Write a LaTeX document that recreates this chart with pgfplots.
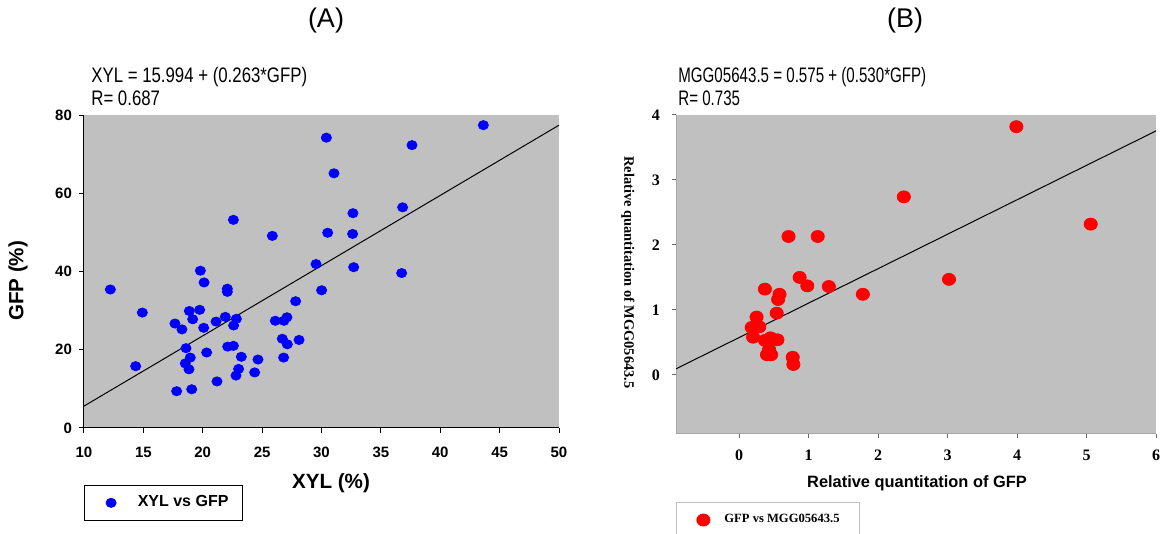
\documentclass[border=0pt]{standalone}
\usepackage{fontspec}
\setmainfont{Liberation Sans}
\newfontfamily\timesf{Liberation Serif}
\newfontfamily\narrowf[FakeStretch=0.8]{Liberation Sans}
\usepackage{pgfplots}
\pgfplotsset{compat=1.18}
\definecolor{plotbg}{RGB}{192,192,192}

\begin{document}
\begin{tikzpicture}[x=1pt,y=1pt]
\useasboundingbox (0,0) rectangle (582,267);

% ---------- panel A ----------
\begin{axis}[
  at={(42pt,53pt)}, anchor=south west,
  scale only axis, width=237.5pt, height=156.5pt,
  xmin=10, xmax=50, ymin=0, ymax=80,
  xtick={10,15,...,50}, ytick={0,20,...,80},
  axis x line*=bottom, axis y line*=left,
  axis line style={black, line width=0.5pt},
  axis background/.style={fill=plotbg},
  tick align=outside, major tick length=2.5pt,
  tick style={black, line width=0.5pt},
  ticklabel style={font=\fontsize{7.5}{9}\selectfont\bfseries},
  xticklabel style={yshift=-3.5pt},
  /pgf/number format/assume math mode=true,
  xlabel={XYL (\%)}, ylabel={GFP (\%)},
  label style={font=\fontsize{10.3}{12}\selectfont\bfseries},
  xlabel style={at={(axis description cs:0.52,-0.176)}, anchor=center},
  ylabel style={at={(axis description cs:-0.139,0.47)}, anchor=center},
  legend style={at={(axis description cs:0,-0.182)}, anchor=north west,
    draw=black, fill=white, font=\fontsize{8}{9.6}\selectfont\bfseries,
    inner xsep=5pt, inner ysep=3.2pt},
  legend image code/.code={\path[draw=none, fill=none] (0pt,0pt) -- (19.7pt,0pt);
    \draw[#1] plot coordinates {(8.35pt,0pt)};},
  legend cell align=left,
]
\addplot[only marks, mark=*, mark size=2.3pt, color=blue, mark options={xscale=1.1}] coordinates {
  (43.63,77.4) (30.41,74.2) (37.62,72.3) (31.05,65.1) (36.83,56.4)
  (32.65,54.9) (22.58,53.2) (30.52,49.9) (32.62,49.6) (25.86,49.1)
  (29.54,41.9) (32.71,41.1) (36.75,39.6) (19.80,40.2) (20.11,37.2)
  (12.22,35.4) (22.07,35.6) (22.07,34.8) (30.01,35.2) (27.82,32.4)
  (14.91,29.5) (18.87,29.9) (19.74,30.2) (19.15,27.8) (17.66,26.7)
  (18.25,25.2) (20.08,25.6) (21.12,27.2) (21.90,28.4) (22.83,27.9)
  (22.60,26.2) (26.11,27.4) (26.84,27.4) (27.09,28.3) (26.70,22.8)
  (27.12,21.4) (28.11,22.5) (18.59,20.4) (22.10,20.8) (22.58,21.0)
  (20.33,19.3) (18.95,18.0) (23.25,18.2) (24.65,17.5) (26.81,18.0)
  (14.35,15.8) (18.53,16.5) (18.84,15.0) (23.02,15.1) (22.80,13.4)
  (24.37,14.2) (21.20,11.9) (17.80,9.4) (19.07,9.9)
};
\addlegendentry{XYL vs GFP}
\addplot[black, line width=0.5pt, forget plot] coordinates {(10,5.6) (50,77.4)};
\end{axis}

% ---------- panel B ----------
\begin{axis}[
  at={(338pt,50pt)}, anchor=south west,
  scale only axis, width=240pt, height=159.5pt,
  xmin=-0.91, xmax=6, ymin=-0.91, ymax=4,
  xtick={0,1,...,6}, ytick={0,1,...,4},
  axis x line*=bottom, axis y line*=left,
  axis line style={black!35, line width=0.5pt},
  axis background/.style={fill=plotbg},
  tick align=outside, major tick length=2pt,
  tick style={black!60, line width=0.5pt},
  ticklabel style={font=\fontsize{8}{9.6}\selectfont\timesf\bfseries},
  xticklabel style={yshift=-2.5pt},
  yticklabel style={xshift=-2.5pt},
  /pgf/number format/assume math mode=true,
  xlabel={Relative quantitation of GFP},
  ylabel={Relative quantitation of MGG05643.5},
  xlabel style={font=\fontsize{8.2}{10}\selectfont\bfseries,
    at={(axis description cs:0.502,-0.156)}, anchor=center},
  ylabel style={font=\fontsize{7.2}{9}\selectfont\timesf\bfseries,
    at={(axis description cs:-0.1,0.506)}, anchor=center, rotate=180},
  legend style={at={(axis description cs:0,-0.213)}, anchor=north west,
    draw=black!25, fill=white, font=\fontsize{6.3}{7.5}\selectfont\timesf\bfseries,
    inner xsep=5pt, inner ysep=4pt},
  legend image code/.code={\path[draw=none, fill=none] (0pt,0pt) -- (17pt,0pt);
    \draw[#1] plot coordinates {(8.5pt,0pt)};},
  legend cell align=left,
]
\addplot[only marks, mark=*, mark size=3pt, color=red, mark options={xscale=1.1}] coordinates {
  (3.99,3.82) (2.37,2.74) (5.06,2.32) (0.71,2.13) (1.13,2.13)
  (0.87,1.50) (0.98,1.37) (1.29,1.36) (3.02,1.47) (1.78,1.24)
  (0.37,1.32) (0.58,1.24) (0.56,1.16) (0.54,0.95) (0.25,0.89)
  (0.18,0.73) (0.29,0.74) (0.20,0.58) (0.37,0.53) (0.45,0.57)
  (0.55,0.54) (0.43,0.39) (0.40,0.31) (0.46,0.31) (0.77,0.27)
  (0.78,0.16)
};
\addlegendentry{GFP vs MGG05643.5\hspace*{3pt}}
\addplot[black, line width=0.5pt, forget plot] coordinates {(-0.91,0.093) (6,3.755)};
\end{axis}

% ---------- titles and fit equations ----------
\node[font=\fontsize{13.5}{16}\selectfont, anchor=base] at (163,253) {(A)};
\node[font=\fontsize{13.5}{16}\selectfont, anchor=base] at (452.5,253) {(B)};
\node[font=\fontsize{10.5}{12}\selectfont\narrowf, anchor=base west, inner sep=0pt] at (45.5,225.5) {XYL = 15.994 + (0.263*GFP)};
\node[font=\fontsize{10.5}{12}\selectfont\narrowf, anchor=base west, inner sep=0pt] at (45.5,214) {R= 0.687};
\node[font=\fontsize{10.5}{12}\selectfont\narrowf, anchor=base west, inner sep=0pt, xscale=0.9] at (339,225.5) {MGG05643.5 = 0.575 + (0.530*GFP)};
\node[font=\fontsize{10.5}{12}\selectfont\narrowf, anchor=base west, inner sep=0pt, xscale=0.9] at (339,214) {R= 0.735};
\end{tikzpicture}
\end{document}
